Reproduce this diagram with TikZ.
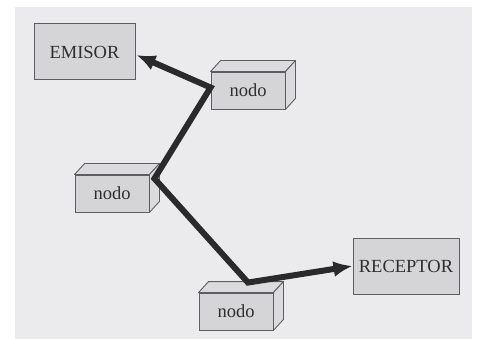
\documentclass[tikz,border=0pt]{standalone}
\usepackage{fontspec}
\setmainfont{Liberation Serif}
\usetikzlibrary{arrows.meta,calc}
\definecolor{pagebg}{HTML}{EBEBEE}
\definecolor{boxfill}{HTML}{D5D5D8}
\definecolor{boxedge}{HTML}{5E5E62}
\definecolor{inkline}{HTML}{2A2A2C}
\definecolor{inktext}{HTML}{2F2F31}
\tikzset{
  bigbox/.style={draw=boxedge, fill=boxfill, line width=1pt, inner sep=0pt,
    text=inktext, font=\fontsize{18.5}{20}\selectfont},
  cubefront/.style={draw=boxedge, fill=boxfill, line width=0.9pt, inner sep=0pt,
    minimum width=74pt, minimum height=37pt, text=inktext,
    font=\fontsize{18.5}{20}\selectfont},
  cubeface/.style={draw=boxedge, fill=boxfill!85!white, line width=0.9pt, line join=round},
  link/.style={draw=inkline, line width=6pt, line join=miter,
    {Latex[length=19pt,width=16pt]}-{Latex[length=19pt,width=16pt]}},
}
\newcommand\mycube[3]{%
  \node[cubefront] (#1) at (#2,#3) {nodo};
  \draw[cubeface] (#1.north west) -- ++(10,-11) -- ($(#1.north east)+(10pt,11pt)$) -- (#1.north east) -- cycle;
  \draw[cubeface] (#1.north east) -- ++(10,-11) -- ($(#1.south east)+(10pt,11pt)$) -- (#1.south east) -- cycle;
}
\begin{document}
\begin{tikzpicture}[x=1pt,y=-1pt]
\useasboundingbox (0,0) rectangle (479,339);
\fill[pagebg] (15,7) rectangle (472,339);
\node[bigbox, minimum width=101pt, minimum height=56pt] (emisor) at (84.5,52) {EMISOR};
\node[bigbox, minimum width=106pt, minimum height=56pt] (receptor) at (406,266) {RECEPTOR};
\mycube{n1}{248}{90.5}
\mycube{n2}{112}{193.5}
\mycube{n3}{236}{311.5}
\coordinate (ea) at ($(emisor.east)+(1pt,-3pt)$);
\coordinate (pa) at ($(n1.west)+(0pt,3pt)$);
\coordinate (pb) at ($(n2.north east)+(5pt,-4pt)$);
\coordinate (pc) at ($(n3.north)+(12pt,10pt)$);
\draw[link] (ea) -- (pa) -- (pb) -- (pc) -- (receptor.west);
\end{tikzpicture}
\end{document}
